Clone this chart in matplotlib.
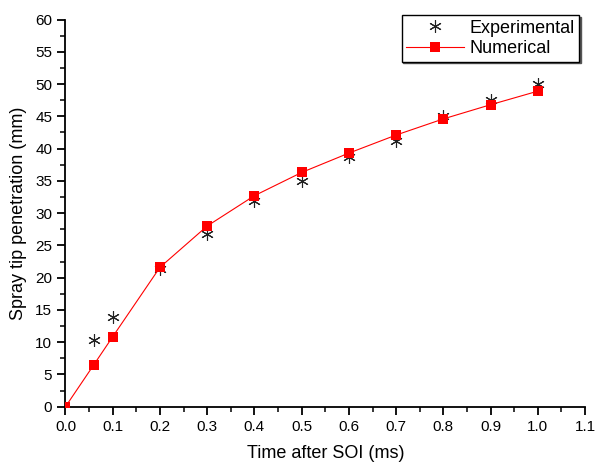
import numpy as np
import matplotlib.pyplot as plt
from matplotlib.ticker import MultipleLocator

plt.rcParams['font.family'] = ['Liberation Sans', 'DejaVu Sans']

exp_t = [0.06, 0.1, 0.2, 0.3, 0.4, 0.5, 0.6, 0.7, 0.8, 0.9, 1.0]
exp_pen = [10.4, 13.9, 21.3, 26.7, 31.8, 35.0, 38.7, 41.2, 45.0, 47.5, 50.0]

num_t = [0.0, 0.06, 0.1, 0.2, 0.3, 0.4, 0.5, 0.6, 0.7, 0.8, 0.9, 1.0]
num_pen = [0.0, 6.5, 10.85, 21.6, 28.0, 32.7, 36.3, 39.3, 42.1, 44.6, 46.8, 48.9]

fig = plt.figure(figsize=(5.97, 4.65), dpi=100)
ax = fig.add_axes([0.1097, 0.1254, 0.8703, 0.8326])

ax.plot(exp_t, exp_pen, linestyle='none', marker=(6, 2, 0), markersize=9,
        color='#222222', markeredgewidth=0.8, label='Experimental', zorder=3)
ax.plot(num_t, num_pen, color='red', linewidth=0.8, marker='s', markersize=7,
        markeredgewidth=0, label='Numerical', zorder=4)

ax.set_xlim(0, 1.1)
ax.set_ylim(0, 60)
ax.xaxis.set_major_locator(MultipleLocator(0.1))
ax.xaxis.set_minor_locator(MultipleLocator(0.05))
ax.yaxis.set_major_locator(MultipleLocator(5))
ax.yaxis.set_minor_locator(MultipleLocator(2.5))
ax.xaxis.set_major_formatter(plt.FuncFormatter(lambda v, p: f'{v:.1f}'))

for side in ['top', 'right']:
    ax.spines[side].set_visible(False)
for side in ['left', 'bottom']:
    ax.spines[side].set_linewidth(1.3)
ax.tick_params(which='major', direction='out', length=6, width=1.3, labelsize=11)
ax.tick_params(which='minor', direction='out', length=3.5, width=1.1)

ax.set_xlabel('Time after SOI (ms)', fontsize=13, labelpad=8)
ax.set_ylabel('Spray tip penetration (mm)', fontsize=13, labelpad=6)

leg = ax.legend(loc='upper right', bbox_to_anchor=(579 / 597, 1 - 15 / 465),
                bbox_transform=fig.transFigure, borderaxespad=0, fontsize=13,
                fancybox=False, edgecolor='black', framealpha=1,
                handlelength=3.2, handletextpad=0.3, borderpad=0.25,
                labelspacing=0.2,
                shadow={'ox': 1.2, 'oy': -1.2, 'color': '#555555', 'alpha': 1})
leg.get_frame().set_linewidth(1.0)

fig.savefig('out.png', dpi=100)
